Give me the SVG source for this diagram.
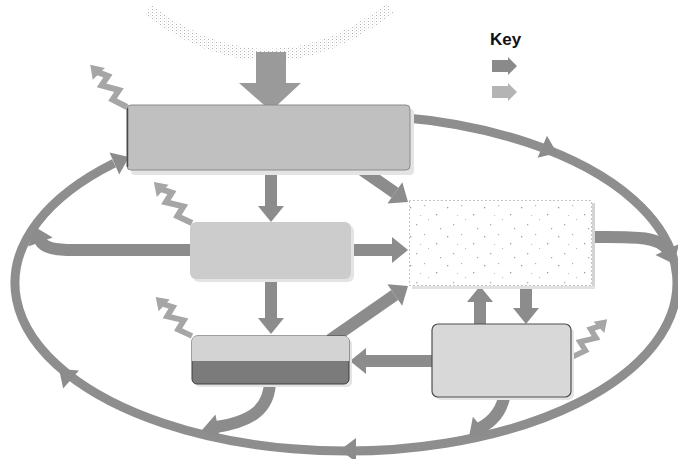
<svg xmlns="http://www.w3.org/2000/svg" xmlns:xlink="http://www.w3.org/1999/xlink" width="678" height="459" viewBox="0 0 678 459">
<style>
.band{fill:none;stroke:#8e8e8e;stroke-width:9}
.shaft{fill:none;stroke:#8c8c8c;stroke-width:12}
.hd{fill:#8c8c8c}
.zz{fill:none;stroke:#a6a6a6;stroke-width:6;stroke-linejoin:miter}
.zzh{fill:#a6a6a6}
.shadow{fill:#e4e4e4}
.key{font-family:"Liberation Sans",Arial,sans-serif;font-size:17px;font-weight:bold;fill:#111}
</style>
<defs>
<path id="hb" d="M0,0 L-16,-13 L-16,13 Z"/>
<path id="he" d="M0,0 L-16,-12 L-16,12 Z"/>
<g id="zz">
<polyline class="zz" points="0,0 15,-6 18,5 33,-5 36,6 45,1"/>
<path class="zzh" d="M56,0 L43,-8 L44,9 Z"/>
</g>
<pattern id="sparse" width="37" height="29" patternUnits="userSpaceOnUse">
<rect x="3" y="4" width="1.3" height="1.3" fill="#9a9a9a"/>
<rect x="17" y="2" width="1.2" height="1.2" fill="#b0b0b0"/>
<rect x="29" y="11" width="1.3" height="1.3" fill="#9a9a9a"/>
<rect x="9" y="21" width="1.3" height="1.3" fill="#aaaaaa"/>
<rect x="21" y="16" width="1.1" height="1.1" fill="#bdbdbd"/>
<rect x="33" y="25" width="1.2" height="1.2" fill="#a5a5a5"/>
<rect x="13" y="12" width="1.1" height="1.1" fill="#c4c4c4"/>
</pattern>
<pattern id="sundots" width="4" height="3" patternUnits="userSpaceOnUse">
<rect width="1" height="1" fill="#b2b2b2"/>
<rect x="2" y="1.5" width="0.9" height="0.9" fill="#d6d6d6"/>
</pattern>
</defs>

<rect width="678" height="459" fill="#ffffff"/>

<g id="sun">
<path d="M148,10 Q271,101 390,8" fill="none" stroke="url(#sundots)" stroke-width="12"/>
</g>

<g id="connectors">
<!-- big loop -->
<path class="band" d="M400,117.3 A331,168 0 1 1 114,163.2"/>
<use href="#he" class="hd" transform="translate(129,157) rotate(-24)"/>
<use href="#he" class="hd" transform="translate(557,153) rotate(23)"/>
<use href="#he" class="hd" transform="translate(340,450) rotate(180)"/>
<use href="#he" class="hd" transform="translate(59,369) rotate(-139)"/>
<!-- sun input -->
<path d="M256,52 L286,52 L286,83 L301,83 L271,111 L239,83 L256,83 Z" fill="#9a9a9a"/>
<!-- A to B -->
<path class="shaft" d="M271,165 L271,206"/>
<use href="#hb" class="hd" transform="translate(271,222) rotate(90)"/>
<!-- A to C -->
<path class="shaft" d="M355,165 L395,192.7"/>
<use href="#hb" class="hd" transform="translate(408,202) rotate(35)"/>
<!-- B to C -->
<path class="shaft" d="M345,250 L392,250"/>
<use href="#hb" class="hd" transform="translate(408,250)"/>
<!-- B to loop -->
<path class="shaft" d="M195,250 L74,250 C54,250 44,248 39.8,240.2"/>
<use href="#hb" class="hd" transform="translate(35,227) rotate(-110)"/>
<!-- B to D -->
<path class="shaft" d="M271,275 L271,318"/>
<use href="#hb" class="hd" transform="translate(271,334) rotate(90)"/>
<!-- D to C -->
<path class="shaft" d="M330,340 L394.8,295"/>
<use href="#hb" class="hd" transform="translate(408,286) rotate(-34.5)"/>
<!-- E to D -->
<path class="shaft" d="M436,361 L366,361"/>
<use href="#hb" class="hd" transform="translate(350,361) rotate(180)"/>
<!-- E to C -->
<path class="shaft" d="M480,328 L480,302"/>
<use href="#hb" class="hd" transform="translate(480,286) rotate(-90)"/>
<!-- C to E -->
<path class="shaft" d="M526,282 L526,308"/>
<use href="#hb" class="hd" transform="translate(526,324) rotate(90)"/>
<!-- C to loop -->
<path class="shaft" d="M588,237 C630,237 660,235 668,251"/>
<use href="#hb" class="hd" transform="translate(674,264) rotate(65)"/>
<!-- D to loop -->
<path class="shaft" d="M270,380 C270,410 250,422 216,427"/>
<use href="#hb" class="hd" transform="translate(202,430) rotate(170)"/>
<!-- E to loop -->
<path class="shaft" d="M505,393 C502,412 492,422 480,428"/>
<use href="#hb" class="hd" transform="translate(469,437) rotate(140)"/>
<!-- heat losses -->
<use href="#zz" transform="translate(127,107) rotate(-131)"/>
<use href="#zz" transform="translate(192,223) rotate(-133)"/>
<use href="#zz" transform="translate(192,336) rotate(-133) scale(0.95)"/>
<use href="#zz" transform="translate(572,357) rotate(-47) scale(0.92,-0.92)"/>
</g>

<g id="node-a">
<rect class="shadow" x="131" y="109" width="283" height="66" rx="4"/>
<rect x="127" y="105" width="283" height="65" rx="4" fill="#c0c0c0" stroke="#8a8a8a" stroke-width="1"/>
<line x1="127.5" y1="108" x2="127.5" y2="167" stroke="#4a4a4a" stroke-width="1.5"/>
</g>

<g id="node-b">
<rect class="shadow" x="193" y="225" width="161" height="57" rx="6"/>
<rect x="190" y="222" width="161" height="57" rx="6" fill="#cccccc"/>
</g>

<g id="node-c">
<rect x="592" y="203" width="3" height="86" fill="#d4d4d4"/>
<rect x="412" y="286" width="183" height="3" fill="#e2e2e2"/>
<rect x="409" y="200" width="183" height="86" fill="#ffffff"/>
<rect x="409" y="200" width="183" height="86" fill="url(#sparse)"/>
<rect x="409.5" y="200.5" width="182" height="85" fill="none" stroke="#8a8a8a" stroke-width="1" stroke-dasharray="1 3"/>
</g>

<g id="node-d">
<rect class="shadow" x="195" y="339" width="157" height="48" rx="5"/>
<rect x="192" y="336" width="157" height="48" rx="5" fill="#7b7b7b" stroke="#3e3e3e" stroke-width="1"/>
<path d="M192,361 L192,341 Q192,336 197,336 L344,336 Q349,336 349,341 L349,361 Z" fill="#d3d3d3"/>
</g>

<g id="node-e">
<rect class="shadow" x="435" y="327" width="139" height="73" rx="6"/>
<rect x="432" y="324" width="139" height="73" rx="6" fill="#d8d8d8" stroke="#4e4e4e" stroke-width="1.2"/>
</g>

<g id="key">
<text class="key" x="490" y="45">Key</text>
<path d="M492,60 L508,60 L508,57 L517,66 L508,75 L508,72 L492,72 Z" fill="#8a8a8a"/>
<path d="M492,86 L508,86 L508,83 L517,92 L508,101 L508,98 L492,98 Z" fill="#b4b4b4"/>
</g>
</svg>
